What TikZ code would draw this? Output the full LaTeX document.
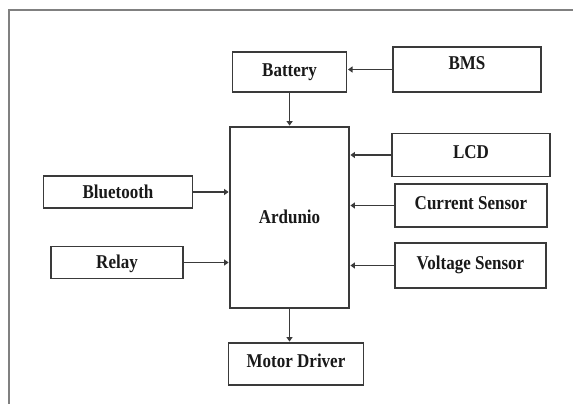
\documentclass[tikz,border=0pt]{standalone}
\usepackage{fontspec}
\setmainfont{Liberation Serif}
\usetikzlibrary{arrows.meta}

\definecolor{framegray}{HTML}{808080}
\definecolor{boxgray}{HTML}{3A3A3A}
\definecolor{wiregray}{HTML}{3A3A3A}

\newcommand{\tall}[1]{\scalebox{1}[1.15]{#1}}

\tikzset{
  blok/.style={draw=boxgray, line width=1.4pt, inner sep=0pt, text=black!90,
    text height=13pt, text depth=0pt,
    font=\bfseries\fontsize{17}{19}\selectfont},
  textup/.style={text depth=#1},
  wire/.style={draw=wiregray, line width=1.3pt, shorten >=0.7pt,
    -{Triangle[length=4.5pt,width=6pt]}}
}

\begin{document}
\begin{tikzpicture}[x=1pt,y=-1pt]
		\useasboundingbox (0,0) rectangle (573,404);
		\fill[white] (0,0) rectangle (573,404);
		\draw[framegray, line width=2pt] (9,410) -- (9,10.5) -- (580,10.5);  % frame 
		
		\node[blok, minimum width=114pt, minimum height=40pt, textup=4pt] (battery) at (289.6,72) {\tall{Battery}};  % top 
		\node[blok, minimum width=148pt, minimum height=45pt, textup=12pt] (bms) at (467,69.5) {\tall{BMS}}; 
		\node[blok, minimum width=119pt, minimum height=181pt, textup=2pt] (ardunio) at (289.5,217.5) {\tall{Ardunio}};  % centre 
		\node[blok, minimum width=158pt, minimum height=43pt, textup=6pt] (lcd) at (471,155) {\tall{LCD}};  % right 
		\node[blok, minimum width=152pt, minimum height=43pt, textup=6pt] (current) at (471,205.5) {\tall{Current Sensor}}; 
		\node[blok, minimum width=151pt, minimum height=45pt, textup=6pt] (voltage) at (470.5,265.5) {\tall{Voltage Sensor}}; 
		\node[blok, minimum width=149pt, minimum height=32pt] (bluetooth) at (118,192) {\tall{Bluetooth}};  % left 
		\node[blok, minimum width=132pt, minimum height=32pt, textup=2pt] (relay) at (117,262.5) {\tall{Relay}}; 
		\node[blok, minimum width=135.5pt, minimum height=42pt, textup=6pt] (motor) at (296,364) {\tall{Motor Driver}};  % bottom 
		
		\draw[wire] (bms.west) -- (bms.west -| battery.east); 
		\draw[wire] (battery.south) -- (battery.south |- ardunio.north); 
		\draw[wire] (lcd.west) -- (lcd.west -| ardunio.east); 
		\draw[wire] (current.west) -- (current.west -| ardunio.east); 
		\draw[wire] (voltage.west) -- (voltage.west -| ardunio.east); 
		\draw[wire] (bluetooth.east) -- (bluetooth.east -| ardunio.west); 
		\draw[wire] (relay.east) -- (relay.east -| ardunio.west); 
		\draw[wire] (ardunio.south) -- (ardunio.south |- motor.north); 
		
	\end{tikzpicture}
\end{document}
